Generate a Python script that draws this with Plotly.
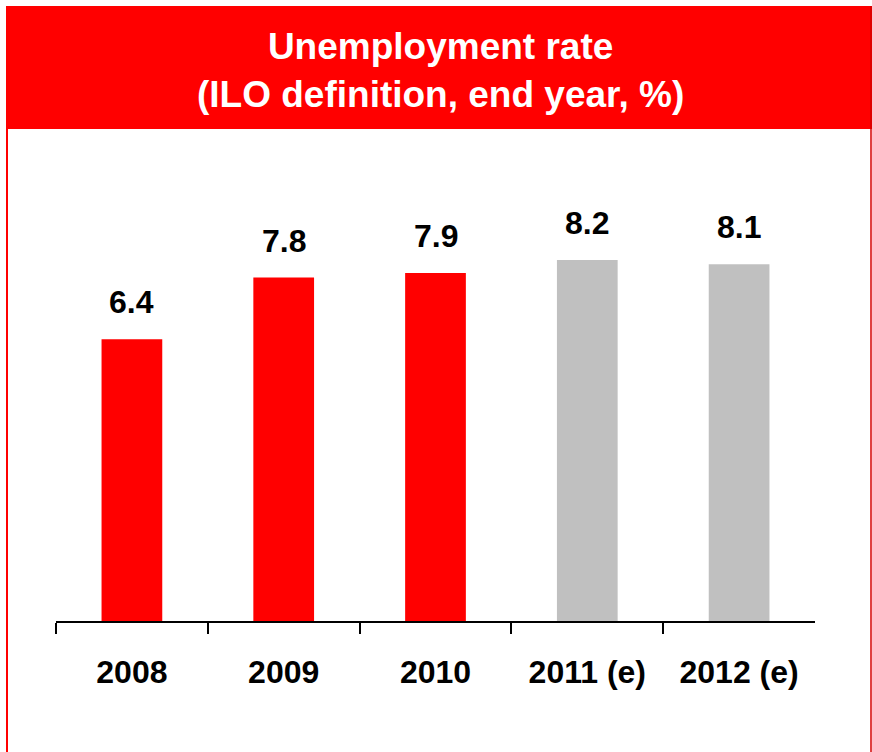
import plotly.graph_objects as go

# Unemployment rate, ILO definition, end of year (%)
years = ["2008", "2009", "2010", "2011 (e)", "2012 (e)"]
rates = [6.4, 7.8, 7.9, 8.2, 8.1]
bar_colors = ["#FF0000", "#FF0000", "#FF0000", "#C0C0C0", "#C0C0C0"]
title_lines = ["Unemployment rate", "(ILO definition, end year, %)"]

W, H = 872, 752
FONT = "Arial, 'Liberation Sans', sans-serif"


def px_x(x):
    return x / W


def px_y(y):
    return 1 - y / H


fig = go.Figure()
fig.add_trace(go.Bar(
    x=years,
    y=rates,
    width=0.4,
    marker=dict(color=bar_colors, line=dict(width=0)),
    hoverinfo="x+y",
))

# value labels above each bar (category index positions)
for i, v in enumerate(rates):
    fig.add_annotation(
        x=i, y=v, xref="x", yref="y",
        text=f"<b>{v:.1f}</b>",
        showarrow=False, yanchor="middle", yshift=37,
        font=dict(family=FONT, size=32, color="black"),
    )

# red header band and side rules of the frame
fig.add_shape(type="rect", xref="paper", yref="paper",
              x0=px_x(6), x1=px_x(872), y0=px_y(129), y1=px_y(6),
              line=dict(width=0), fillcolor="#FF0000", layer="below")
fig.add_shape(type="line", xref="paper", yref="paper",
              x0=px_x(7), x1=px_x(7), y0=px_y(752), y1=px_y(6),
              line=dict(color="#FF0000", width=2), layer="above")
fig.add_shape(type="line", xref="paper", yref="paper",
              x0=px_x(871), x1=px_x(871), y0=px_y(752), y1=px_y(6),
              line=dict(color="#D40000", width=1.5), layer="above")

fig.add_annotation(
    xref="paper", yref="paper", x=px_x(440), y=px_y(70),
    text="<b>" + "<br>".join(title_lines) + "</b>",
    showarrow=False, xanchor="center", yanchor="middle",
    font=dict(family=FONT, size=37, color="white"),
)

fig.update_layout(
    width=W, height=H,
    margin=dict(l=0, r=0, t=0, b=0),
    paper_bgcolor="white", plot_bgcolor="white",
    showlegend=False,
    font=dict(family=FONT, color="black"),
    bargap=0.6,
)
fig.update_xaxes(
    type="category",
    domain=[px_x(56), px_x(815)],
    range=[-0.5, 4.5],
    showline=True, linecolor="black", linewidth=2,
    ticks="outside", tickson="boundaries", ticklen=11, tickwidth=2, tickcolor="black",
    tickfont=dict(family=FONT, size=32, color="black", weight="bold"),
    ticklabelstandoff=22,
    showgrid=False, zeroline=False, automargin=False,
)
fig.update_yaxes(
    domain=[px_y(621), px_y(141)],
    range=[0, 10.9],
    visible=False, showgrid=False, zeroline=False, automargin=False,
)

fig.write_html("out.html")
